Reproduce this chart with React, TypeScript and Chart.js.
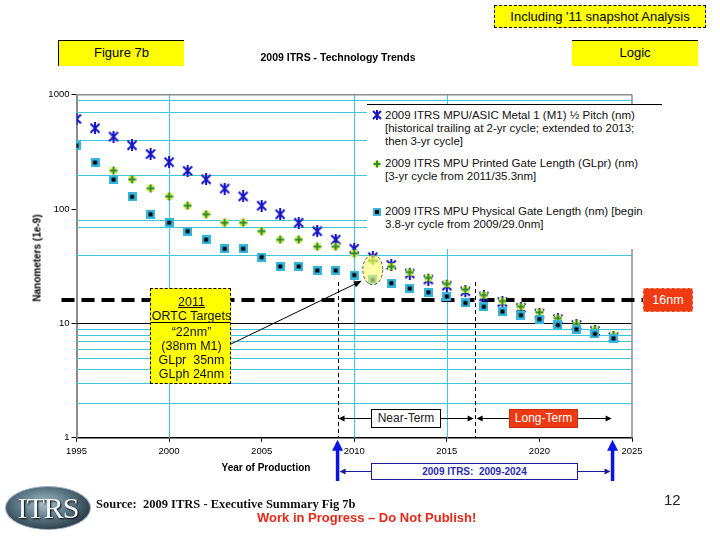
import React, { useEffect, useRef } from "react";
import { Chart, registerables } from "chart.js";

Chart.register(...registerables);

// ---------- data ----------
const years = [1995, 1996, 1997, 1998, 1999, 2000, 2001, 2002, 2003, 2004, 2005, 2006, 2007, 2008, 2009, 2010, 2011, 2012, 2013, 2014, 2015, 2016, 2017, 2018, 2019, 2020, 2021, 2022, 2023, 2024];
const m1HalfPitch = [614, 509, 430, 361, 303, 257, 216, 182, 151, 129, 107, 90, 76, 64, 54, 45, 38, 32.5, 27.3, 24.2, 21.4, 19.1, 17.2, 15.4, 13.7, 12.2, 10.9, 9.7, 8.6, 7.6];
const glprYears = [1997, 1998, 1999, 2000, 2001, 2002, 2003, 2004, 2005, 2006, 2007, 2008, 2009, 2010, 2011, 2012, 2013, 2014, 2015, 2016, 2017, 2018, 2019, 2020, 2021, 2022, 2023, 2024];
const glprValues = [217, 182, 152, 129, 107, 90, 76, 76, 64, 54, 54, 47, 47, 41, 35.3, 31.4, 28, 25, 22.2, 19.8, 17.7, 15.7, 14, 12.5, 11.1, 9.9, 8.8, 7.9];
const glphValues = [359, 255, 181, 128, 90, 76, 64, 54, 45, 45, 38, 31.5, 31.5, 29, 29, 26.5, 24, 22.5, 20.2, 18.7, 17.2, 15.1, 14, 12.7, 11.8, 10.9, 9.7, 8.9, 8.1, 7.4];

const xTickYears = [1995, 2000, 2005, 2010, 2015, 2020, 2025];
const yTickValues = [1, 10, 100, 1000];
const minorGridValues = [900, 700, 400, 200, 80, 70, 40, 9, 8, 7, 6, 5, 4, 3, 2];
const cyanGridYears = [2000, 2010, 2015];
const blackGridValue = 10;
const targetNode = 16;
const nearTermStart = 2009.1;
const nearTermEnd = 2016.5;
const longTermEnd = 2023.9;
const ortcYear = 2011;
const ortcEllipseTop = 39.8;
const ortcEllipseBottom = 21.8;
const dashedStartValue = 23;

const FONT = "'Liberation Sans', Arial, sans-serif";

function makeMarker(kind: string): HTMLCanvasElement {
  const c = document.createElement("canvas");
  const ctx = c.getContext("2d")!;
  if (kind === "star") {
    c.width = 12; c.height = 12;
    ctx.strokeStyle = "#1414c4";
    ctx.lineWidth = 2;
    ctx.beginPath();
    ctx.moveTo(1.5, 1.5); ctx.lineTo(10.5, 10.5);
    ctx.moveTo(10.5, 1.5); ctx.lineTo(1.5, 10.5);
    ctx.moveTo(6, 0); ctx.lineTo(6, 12);
    ctx.stroke();
  } else if (kind === "plus") {
    c.width = 9; c.height = 9;
    ctx.fillStyle = "#e4f05a";
    ctx.fillRect(1, 1, 7, 7);
    ctx.strokeStyle = "#2b8a2b";
    ctx.lineWidth = 2;
    ctx.beginPath();
    ctx.moveTo(4.5, 0.5); ctx.lineTo(4.5, 8.5);
    ctx.moveTo(0.5, 4.5); ctx.lineTo(8.5, 4.5);
    ctx.stroke();
  } else {
    c.width = 9; c.height = 9;
    ctx.fillStyle = "#36b6de";
    ctx.fillRect(0, 0, 9, 9);
    ctx.fillStyle = "#000";
    ctx.fillRect(2.5, 2.5, 4, 4);
  }
  return c;
}

function arrowHead(ctx: CanvasRenderingContext2D, x: number, y: number, dir: number, len: number, hw: number) {
  const bx = x - len * Math.cos(dir);
  const by = y - len * Math.sin(dir);
  ctx.beginPath();
  ctx.moveTo(x, y);
  ctx.lineTo(bx + hw * Math.sin(dir), by - hw * Math.cos(dir));
  ctx.lineTo(bx - hw * Math.sin(dir), by + hw * Math.cos(dir));
  ctx.closePath();
  ctx.fill();
}

function seg(ctx: CanvasRenderingContext2D, x1: number, y1: number, x2: number, y2: number) {
  ctx.beginPath();
  ctx.moveTo(x1, y1);
  ctx.lineTo(x2, y2);
  ctx.stroke();
}

const overlayPlugin = {
  id: "slideOverlay",
  beforeDatasetsDraw(chart: any) {
    const { ctx, chartArea: a, scales } = chart;
    const x = scales.x, y = scales.y;
    ctx.save();
    ctx.strokeStyle = "#3cc8d8";
    ctx.lineWidth = 1;
    minorGridValues.forEach((v) => {
      const py = Math.round(y.getPixelForValue(v)) + 0.5;
      seg(ctx, a.left, py, a.right, py);
    });
    cyanGridYears.forEach((yr) => {
      const px = Math.round(x.getPixelForValue(yr)) + 0.5;
      seg(ctx, px, a.top, px, a.bottom);
    });
    ctx.strokeStyle = "#000";
    const p10 = Math.round(y.getPixelForValue(blackGridValue)) + 0.5;
    seg(ctx, a.left, p10, a.right, p10);
    // top & right border
    ctx.strokeStyle = "#8c8c8c";
    ctx.lineWidth = 1.5;
    seg(ctx, a.left, a.top, a.right, a.top);
    seg(ctx, a.right, a.top, a.right, a.bottom);
    // 16nm dashed
    ctx.strokeStyle = "#000";
    ctx.lineWidth = 4;
    ctx.setLineDash([13, 7]);
    const p16 = y.getPixelForValue(targetNode);
    seg(ctx, a.left - 15, p16, a.right + 11, p16);
    ctx.setLineDash([]);
    ctx.restore();
  },
  afterDatasetsDraw(chart: any) {
    const { ctx, chartArea: a, scales } = chart;
    const x = scales.x, y = scales.y;
    ctx.save();
    // ellipse
    const cx = x.getPixelForValue(ortcYear);
    const yt = y.getPixelForValue(ortcEllipseTop);
    const yb = y.getPixelForValue(ortcEllipseBottom);
    const cy = (yt + yb) / 2;
    const ry = (yb - yt) / 2;
    const rx = 10;
    ctx.beginPath();
    ctx.ellipse(cx, cy, rx, ry, 0, 0, Math.PI * 2);
    ctx.fillStyle = "rgba(255,255,110,0.62)";
    ctx.fill();
    ctx.setLineDash([3, 2]);
    ctx.strokeStyle = "#555";
    ctx.lineWidth = 1;
    ctx.stroke();
    ctx.setLineDash([]);
    // arrow from ORTC box
    const sx = 231, sy = 344;
    const tx = cx - 11, ty = cy + 11;
    ctx.strokeStyle = "#000";
    ctx.fillStyle = "#000";
    seg(ctx, sx, sy, tx - 5, ty + 2.4);
    arrowHead(ctx, tx, ty, Math.atan2(ty - sy, tx - sx), 8, 3.2);
    // dashed verticals
    const xn0 = x.getPixelForValue(nearTermStart);
    const xn1 = x.getPixelForValue(nearTermEnd);
    const xl1 = x.getPixelForValue(longTermEnd);
    const yds = y.getPixelForValue(dashedStartValue);
    ctx.setLineDash([4, 3]);
    seg(ctx, Math.round(xn0) + 0.5, yds, Math.round(xn0) + 0.5, a.bottom);
    seg(ctx, Math.round(xn1) + 0.5, yds, Math.round(xn1) + 0.5, a.bottom);
    ctx.setLineDash([]);
    // near / long term arrows
    const ya = 418.5;
    seg(ctx, xn0 + 4, ya, xn1 - 4, ya);
    seg(ctx, xn1 + 4, ya, xl1 - 4, ya);
    arrowHead(ctx, xn0 + 1, ya, Math.PI, 6, 3);
    arrowHead(ctx, xn1 - 1, ya, 0, 6, 3);
    arrowHead(ctx, xn1 + 2, ya, Math.PI, 6, 3);
    arrowHead(ctx, xl1, ya, 0, 6, 3);
    // blue arrows below axis
    ctx.strokeStyle = "#0a14e6";
    ctx.fillStyle = "#0a14e6";
    ctx.lineWidth = 3.5;
    [xn0, x.getPixelForValue(longTermEnd + 0.05)].forEach((bx) => {
      seg(ctx, bx, 481, bx, 448);
      arrowHead(ctx, bx, a.bottom + 2, -Math.PI / 2, 11, 5.5);
    });
    // ITRS range arrows
    const xb1 = x.getPixelForValue(longTermEnd + 0.05);
    ctx.strokeStyle = "#1c1ca0";
    ctx.fillStyle = "#1c1ca0";
    ctx.lineWidth = 1;
    const yi = 471.5;
    seg(ctx, xn0 + 5, yi, 372, yi);
    seg(ctx, 578, yi, xb1 - 5, yi);
    arrowHead(ctx, xn0 + 2, yi, Math.PI, 6, 3);
    arrowHead(ctx, xb1 - 2, yi, 0, 6, 3);
    ctx.restore();
  },
};

function StarIcon() {
  return (
    <svg width="10" height="10" viewBox="0 0 10 10" style={{ display: "block" }}>
      <path d="M1 1 L9 9 M9 1 L1 9 M5 0 L5 10" stroke="#1414c4" strokeWidth="2" />
    </svg>
  );
}
function PlusIcon() {
  return (
    <svg width="8" height="8" viewBox="0 0 8 8" style={{ display: "block" }}>
      <rect x="1" y="1" width="6" height="6" fill="#e4f05a" />
      <path d="M4 0.5 L4 7.5 M0.5 4 L7.5 4" stroke="#2b8a2b" strokeWidth="2" />
    </svg>
  );
}
function SquareIcon() {
  return (
    <svg width="8" height="8" viewBox="0 0 8 8" style={{ display: "block" }}>
      <rect x="0" y="0" width="8" height="8" fill="#36b6de" />
      <rect x="2" y="2" width="4" height="4" fill="#000" />
    </svg>
  );
}

const abs = (l: number, t: number, extra: any = {}) => ({ position: "absolute" as const, left: l, top: t, ...extra });

export default function App() {
  const ref = useRef<HTMLCanvasElement | null>(null);

  useEffect(() => {
    if (!ref.current) return;
    Chart.defaults.font.family = FONT;
    const star = makeMarker("star");
    const plus = makeMarker("plus");
    const square = makeMarker("square");
    const chart = new Chart(ref.current, {
      type: "scatter",
      data: {
        datasets: [
          {
            label: "2009 ITRS MPU/ASIC Metal 1 (M1) ½ Pitch (nm)",
            data: years.map((yr, i) => ({ x: yr, y: m1HalfPitch[i] })),
            pointStyle: star as any,
            pointRadius: 6,
            order: 3,
          },
          {
            label: "2009 ITRS MPU Printed Gate Length (GLpr) (nm)",
            data: glprYears.map((yr, i) => ({ x: yr, y: glprValues[i] })),
            pointStyle: plus as any,
            pointRadius: 5,
            order: 2,
          },
          {
            label: "2009 ITRS MPU Physical Gate Length (nm)",
            data: years.map((yr, i) => ({ x: yr, y: glphValues[i] })),
            pointStyle: square as any,
            pointRadius: 5,
            order: 1,
          },
        ],
      },
      options: {
        responsive: false,
        animation: false,
        events: [],
        layout: { padding: { left: 0, right: 88, top: 94.7, bottom: 72 } },
        plugins: { legend: { display: false }, tooltip: { enabled: false }, title: { display: false } },
        scales: {
          x: {
            type: "linear",
            min: 1995,
            max: 2025,
            afterBuildTicks: (s: any) => { s.ticks = xTickYears.map((v) => ({ value: v })); },
            afterFit: (s: any) => { s.height = 30.2; },
            ticks: { callback: (v: any) => String(v), color: "#000", font: { size: 9.5 }, padding: 4, maxRotation: 0, autoSkip: false },
            grid: { drawOnChartArea: false, drawTicks: true, tickLength: 4, color: "#000" },
            border: { color: "#000", width: 1.5 },
          },
          y: {
            type: "logarithmic",
            min: 1,
            max: 1000,
            afterBuildTicks: (s: any) => { s.ticks = yTickValues.map((v) => ({ value: v })); },
            afterFit: (s: any) => { s.width = 76.5; },
            ticks: { callback: (v: any) => String(v), color: "#000", font: { size: 9.5 }, padding: 2, autoSkip: false },
            grid: { drawOnChartArea: false, drawTicks: true, tickLength: 5, color: "#000" },
            border: { color: "#8c8c8c", width: 2 },
          },
        },
      },
      plugins: [overlayPlugin],
    } as any);
    return () => chart.destroy();
  }, []);

  const legendText = { fontFamily: FONT, fontSize: 11.5, lineHeight: "13.3px", color: "#111", whiteSpace: "nowrap" as const };
  const ortcLine = (t: number, text: string, extra: any = {}) => (
    <div style={{ position: "absolute", left: 0, width: 81, top: t - 7, height: 14, lineHeight: "14px", textAlign: "center", whiteSpace: "pre", ...extra }}>{text}</div>
  );

  return (
    <div style={{ position: "absolute", left: 0, top: 0, width: 720, height: 540, background: "#fff", overflow: "hidden", fontFamily: FONT }}>
      <canvas ref={ref} width={720} height={540} style={{ position: "absolute", left: 0, top: 0 }} />

      {/* header boxes */}
      <div style={abs(494, 5, { width: 210, height: 21, background: "#ffff00", border: "1px dashed #000", fontSize: 13, lineHeight: "21px", textAlign: "center" })}>Including '11 snapshot Analysis</div>
      <div style={abs(58, 40, { width: 125, height: 25, background: "#ffff00", borderTop: "1px solid #000", borderLeft: "1px solid #000", fontSize: 13, lineHeight: "24px", textAlign: "center" })}>Figure 7b</div>
      <div style={abs(572, 40, { width: 126, height: 25, background: "#ffff00", borderTop: "1px solid #000", fontSize: 13, lineHeight: "24px", textAlign: "center" })}>Logic</div>
      <div style={abs(218, 50, { width: 240, textAlign: "center", fontSize: 10.5, fontWeight: "bold", lineHeight: "14px" })}>2009 ITRS - Technology Trends</div>

      {/* axis titles */}
      <div style={abs(37, 258, { transform: "translate(-50%, -50%) rotate(-90deg)", fontSize: 10, fontWeight: "bold", whiteSpace: "nowrap" })}>Nanometers (1e-9)</div>
      <div style={abs(266, 467, { transform: "translate(-50%, -50%)", fontSize: 10, fontWeight: "bold", whiteSpace: "nowrap" })}>Year of Production</div>

      {/* legend */}
      <div style={abs(367, 104, { width: 295, height: 144, background: "#fff", borderTop: "1px solid #000" })}>
        <div style={abs(5, 5)}><StarIcon /></div>
        <div style={abs(18, 3.5, legendText)}>
          <div>2009 ITRS MPU/ASIC Metal 1 (M1) ½ Pitch (nm)</div>
          <div>[historical trailing at 2-yr cycle; extended to 2013;</div>
          <div>then 3-yr cycle]</div>
        </div>
        <div style={abs(6, 54.5)}><PlusIcon /></div>
        <div style={abs(18, 51.8, legendText)}>
          <div>2009 ITRS MPU Printed Gate Length (GLpr) (nm)</div>
          <div>[3-yr cycle from 2011/35.3nm]</div>
        </div>
        <div style={abs(6, 102.5)}><SquareIcon /></div>
        <div style={abs(18, 100.2, legendText)}>
          <div>2009 ITRS MPU Physical Gate Length (nm) [begin</div>
          <div>3.8-yr cycle from 2009/29.0nm]</div>
        </div>
      </div>

      {/* ORTC box */}
      <div style={abs(150, 288, { width: 81, height: 96, background: "#ffff00", border: "1px dashed #000", boxSizing: "border-box", fontSize: 12.5, color: "#111" })}>
        {ortcLine(12.5, "2011", { textDecoration: "underline" })}
        {ortcLine(26.5, "ORTC Targets")}
        <div style={{ position: "absolute", left: 0, width: 79, top: 33, height: 1, background: "#000" }} />
        {ortcLine(42.5, "\u201C22nm\u201D")}
        {ortcLine(56.5, "(38nm M1)")}
        {ortcLine(70.5, "GLpr  35nm")}
        {ortcLine(84.5, "GLph 24nm")}
      </div>

      {/* 16nm */}
      <div style={abs(643, 288, { width: 50, height: 24, background: "#f03a12", border: "1px dashed #f7a080", boxSizing: "border-box", color: "#fff", fontSize: 12.5, lineHeight: "22px", textAlign: "center" })}>16nm</div>

      {/* term boxes */}
      <div style={abs(371, 409, { width: 70, height: 19, background: "#fff", border: "1px solid #000", boxSizing: "border-box", fontSize: 12, lineHeight: "17px", textAlign: "center", color: "#222" })}>Near-Term</div>
      <div style={abs(509, 409, { width: 69, height: 19, background: "#ee3a12", border: "1px solid #c03010", boxSizing: "border-box", fontSize: 12, lineHeight: "17px", textAlign: "center", color: "#fff" })}>Long-Term</div>
      <div style={abs(371, 463, { width: 207, height: 17, background: "#fff", border: "1px solid #1c1ca0", boxSizing: "border-box", fontSize: 10, fontWeight: "bold", lineHeight: "15px", textAlign: "center", color: "#2a2ab4", whiteSpace: "pre" })}>2009 ITRS:  2009-2024</div>

      {/* footer */}
      <div style={abs(5, 486, { width: 86, height: 44, borderRadius: "50%", background: "radial-gradient(ellipse at 45% 40%, #a9bfc8 0%, #5d7a88 40%, #23343f 80%, #10181e 100%)", border: "1px solid #9ab", boxSizing: "border-box", color: "#f4f8fa", fontFamily: "'Liberation Serif', 'Times New Roman', serif", fontSize: 30, lineHeight: "42px", textAlign: "center", letterSpacing: -1, textShadow: "1px 1px 2px #000" })}>ITRS</div>
      <div style={abs(96, 497, { fontFamily: "'Liberation Serif', 'Times New Roman', serif", fontSize: 12.5, fontWeight: "bold", whiteSpace: "pre", color: "#111" })}>Source:  2009 ITRS - Executive Summary Fig 7b</div>
      <div style={abs(257, 510, { fontSize: 13, fontWeight: "bold", whiteSpace: "nowrap", color: "#e6281a" })}>Work in Progress – Do Not Publish!</div>
      <div style={abs(664, 491, { fontSize: 15, color: "#222" })}>12</div>
    </div>
  );
}
